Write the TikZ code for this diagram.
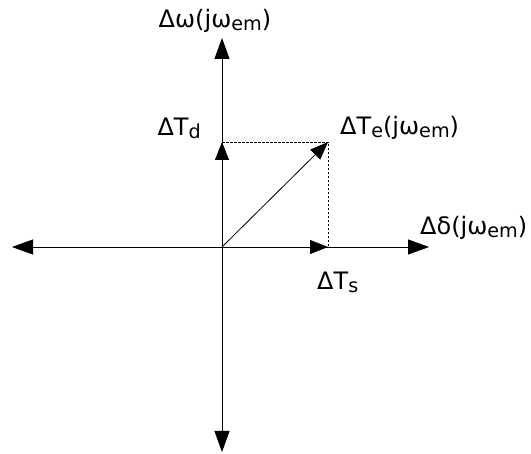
\documentclass[tikz,border=0pt]{standalone}
\usepackage{fontspec}
\setmainfont{DejaVu Sans}
\usetikzlibrary{arrows.meta}
\newcommand{\lo}[1]{\raisebox{-0.12em}{\scalebox{0.8}{#1}}}
\tikzset{
  axis/.style={line width=0.8pt,-{Triangle[length=21pt,width=15pt]}},
  comp/.style={line width=0.8pt,-{Triangle[length=18pt,width=14pt]}},
  proj/.style={line width=0.7pt,dash pattern=on 2.5pt off 1.5pt},
  lbl/.style={inner sep=0pt,font=\fontsize{24}{28}\selectfont}
}
\begin{document}
\begin{tikzpicture}[x=1pt,y=-1pt]
\useasboundingbox (0,0) rectangle (531,454);
\coordinate (O) at (222,247);
\coordinate (top) at (222,38);
\coordinate (bot) at (222,452);
\coordinate (left) at (12,247);
\coordinate (right) at (429,247);
\coordinate (Td) at (222,142);
\coordinate (Ts) at (328,247);
\coordinate (Te) at (328,142);
%labels
\node[lbl,anchor=base] (wlab) at (215,28) {Δω(jω\lo{em})};
\node[lbl,anchor=base east] (Tdlab) at (201,136) {ΔT\lo{d}};
\node[lbl,anchor=base west] (Telab) at (340,135) {ΔT\lo{e}(jω\lo{em})};
\node[lbl,anchor=base west] (dlab) at (420,235) {Δδ(jω\lo{em})};
\node[lbl,anchor=base west] (Tslab) at (317,290) {ΔT\lo{s}};
%axes
\draw[axis] (O) -- (top);
\draw[axis] (O) -- (bot);
\draw[axis] (O) -- (left);
\draw[axis] (O) -- (right);
%components
\draw[proj] (Td) -- (Te) -- (Ts);
\draw[comp] (O) -- (Td);
\draw[comp] (O) -- (Ts);
\draw[comp] (O) -- (Te);
\end{tikzpicture}
\end{document}
